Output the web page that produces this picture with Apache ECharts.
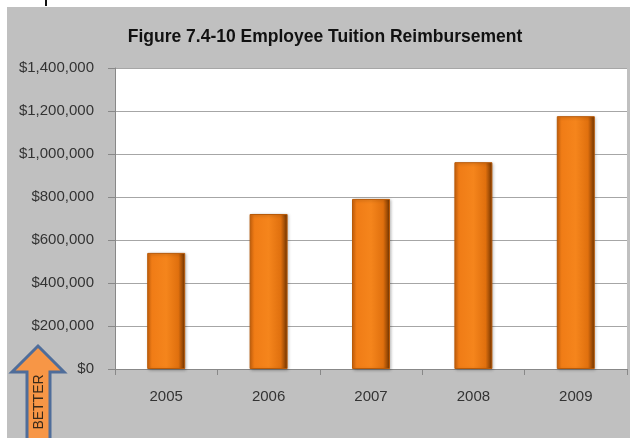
<!DOCTYPE html>
<html><head><meta charset="utf-8">
<script src="https://cdn.jsdelivr.net/npm/echarts@6/dist/echarts.min.js"></script>
<style>html,body{margin:0;padding:0;background:#fff}#c{width:630px;height:438px}</style>
</head><body><div id="c"></div>
<script>
var categories = ['2005','2006','2007','2008','2009'];
var reimbursement = [540000, 721000, 791000, 962000, 1176000];
var yTicks = [0,200000,400000,600000,800000,1000000,1200000,1400000];

var chart = echarts.init(document.getElementById('c'));
function money(v){ return '$' + v.toString().replace(/\B(?=(\d{3})+(?!\d))/g, ','); }
var barColor = new echarts.graphic.LinearGradient(0,0,1,0,[
  {offset:0,color:'#d2650c'},{offset:0.12,color:'#f07c16'},{offset:0.5,color:'#f5851c'},
  {offset:0.82,color:'#e0700e'},{offset:1,color:'#6e3200'}]);
chart.setOption({
  animation:false,
  backgroundColor:'#fff',
  graphic:[
    {type:'rect',shape:{x:7,y:7,width:623,height:431},style:{fill:'#c0c0c0'},z:-10},
    {type:'rect',shape:{x:45,y:0,width:2,height:6},style:{fill:'#111'},z:-5},
    {type:'polygon',shape:{points:[[38,346],[64,372],[50,372],[50,440],[27,440],[27,372],[12,372]]},
      style:{fill:'#f79646',stroke:'#4f6d9a',lineWidth:3},z:10},
    {type:'text',x:39,y:402,rotation:Math.PI/2,style:{text:'BETTER',fill:'#3a2a1a',font:'14px "Liberation Sans"',align:'center',verticalAlign:'middle'},z:11}
  ],
  title:{text:'Figure 7.4-10 Employee Tuition Reimbursement',left:320,textAlign:'center',top:23,
    textStyle:{fontFamily:'"Liberation Sans Narrow","Liberation Sans",Arial',fontWeight:'bold',fontSize:17.5,color:'#111'}},
  grid:{left:115,right:3,top:68,bottom:69,backgroundColor:'#fff',show:true,borderWidth:0},
  xAxis:{type:'category',data:categories,
    axisLine:{lineStyle:{color:'#888'}},
    axisTick:{show:true,alignWithLabel:false,length:6,lineStyle:{color:'#888'}},
    axisLabel:{margin:20,color:'#333',fontSize:15,fontFamily:'"Liberation Sans",Arial'}},
  yAxis:{type:'value',min:0,max:1400000,interval:200000,
    axisLine:{show:true,lineStyle:{color:'#888'}},
    axisTick:{show:true,length:7,lineStyle:{color:'#888'}},
    splitLine:{lineStyle:{color:'#a6a6a6'}},
    axisLabel:{margin:21,color:'#333',fontSize:15,fontFamily:'"Liberation Sans",Arial',formatter:function(v){return money(v);}}},
  series:[{type:'bar',data:reimbursement,barWidth:38,
    itemStyle:{color:barColor,borderColor:'#b85a08',borderWidth:1,
      shadowColor:'rgba(0,0,0,0.25)',shadowBlur:3,shadowOffsetX:1,shadowOffsetY:1}}]
});
</script></body></html>
